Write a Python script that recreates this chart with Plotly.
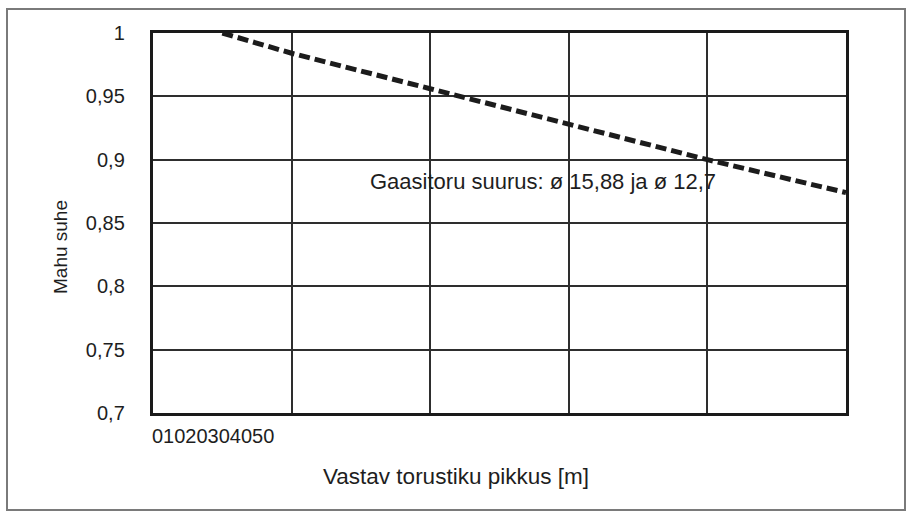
import plotly.graph_objects as go

# Data
pipe_length = [5, 10, 20, 30, 40, 50]
capacity_ratio = [1.0, 0.984, 0.956, 0.928, 0.900, 0.874]
x_ticks = [0, 10, 20, 30, 40, 50]
y_ticks = [0.7, 0.75, 0.8, 0.85, 0.9, 0.95, 1.0]
y_ticklabels = ["0,7", "0,75", "0,8", "0,85", "0,9", "0,95", "1"]
series_label = "Gaasitoru suurus: ø 15,88 ja ø 12,7"
x_title = "Vastav torustiku pikkus [m]"
y_title = "Mahu suhe"

W, H = 906, 512
L, R, T, B = 153, 846, 33, 413
pw, ph = R - L, B - T

def px_x(p):
    return (p - L) / pw

def px_y(p):
    return (B - p) / ph

FONT = "Liberation Sans, Arial, sans-serif"
TXT = "#1e1e1e"

fig = go.Figure()
fig.add_trace(go.Scatter(
    x=pipe_length, y=capacity_ratio, mode="lines",
    line=dict(color="#1c1c1c", width=5, dash="11px,5px"),
    showlegend=False, hoverinfo="skip",
))

fig.update_layout(
    width=W, height=H,
    margin=dict(l=L, r=W - R, t=T, b=H - B),
    paper_bgcolor="white", plot_bgcolor="white",
    font=dict(family=FONT, color=TXT),
    xaxis=dict(
        range=[0, 50], tickvals=x_ticks, ticktext=["" for _ in x_ticks],
        showgrid=True, gridcolor="#2e2e2e", gridwidth=1.7,
        showline=True, linecolor="#1a1a1a", linewidth=3.4, mirror=True,
        zeroline=False, ticks="",
    ),
    yaxis=dict(
        range=[0.7, 1.0], tickvals=y_ticks, ticktext=y_ticklabels,
        showgrid=True, gridcolor="#2e2e2e", gridwidth=1.7,
        showline=True, linecolor="#1a1a1a", linewidth=3.4, mirror=True,
        zeroline=False, ticks="", ticklabelstandoff=21,
        tickfont=dict(size=20, color=TXT),
    ),
    shapes=[dict(
        type="rect", xref="paper", yref="paper",
        x0=px_x(7), x1=px_x(905), y0=px_y(510), y1=px_y(9),
        line=dict(color="#7a7a7a", width=2), layer="below",
    )],
    annotations=[
        dict(text="".join(str(v) for v in x_ticks), xref="x", yref="paper",
             x=x_ticks[0], y=px_y(436), xanchor="left", yanchor="middle",
             xshift=-3, showarrow=False, font=dict(size=20, color=TXT)),
        dict(text=series_label, xref="x", yref="y", x=15.5, y=0.8828,
             xanchor="left", yanchor="middle", showarrow=False,
             font=dict(size=22, color=TXT)),
        dict(text=x_title, xref="paper", yref="paper", x=px_x(455.5), y=px_y(476),
             xanchor="center", yanchor="middle", showarrow=False,
             font=dict(size=22.5, color=TXT)),
        dict(text=y_title, xref="paper", yref="paper", x=px_x(60), y=px_y(247),
             xanchor="center", yanchor="middle", textangle=-90, showarrow=False,
             font=dict(size=19, color=TXT)),
    ],
)

fig.write_html("out.html")
